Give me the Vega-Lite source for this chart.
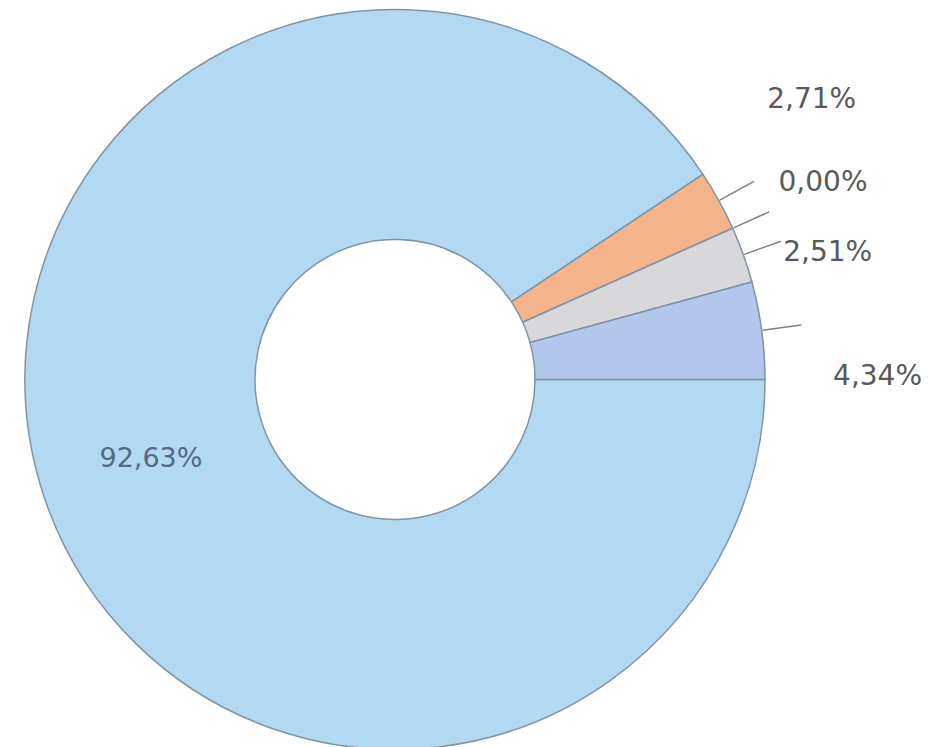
{
  "$schema": "https://vega.github.io/schema/vega-lite/v6.json",
  "width": 790,
  "height": 747,
  "autosize": {"type": "none"},
  "padding": {"left": 0, "top": 6, "right": 149, "bottom": 0},
  "background": "white",
  "config": {"view": {"stroke": null}},
  "data": {
    "values": [
      {"category": "1", "value": 92.63, "label": "92,63%", "order": 1},
      {"category": "2", "value": 2.71, "label": "2,71%", "order": 2},
      {"category": "3", "value": 0.0, "label": "0,00%", "order": 3},
      {"category": "4", "value": 2.51, "label": "2,51%", "order": 4},
      {"category": "5", "value": 4.34, "label": "4,34%", "order": 5}
    ]
  },
  "transform": [
    {"stack": "value", "groupby": [], "sort": [{"field": "order", "order": "ascending"}], "as": ["v0", "v1"]},
    {"calculate": "(datum.v0 + datum.v1) / 2", "as": "mid"}
  ],
  "layer": [
    {
      "mark": {"type": "arc", "innerRadius": 140, "outerRadius": 370, "stroke": "#8194a6", "strokeWidth": 1.5},
      "encoding": {
        "theta": {"field": "value", "type": "quantitative", "stack": true, "scale": {"range": [1.5707963, 7.8539816], "zero": true, "nice": false}},
        "order": {"field": "order", "type": "quantitative", "sort": "ascending"},
        "color": {
          "field": "category",
          "type": "nominal",
          "scale": {"domain": ["1", "2", "3", "4", "5"], "range": ["#b3d8f2", "#f3b48c", "#ffe3a0", "#d8d8da", "#b3c6ec"]},
          "legend": null
        }
      }
    },
    {
      "transform": [{"filter": "datum.order > 1"}],
      "mark": {"type": "arc", "radius": 410, "radius2": 371, "stroke": "#808080", "strokeWidth": 1.5},
      "encoding": {
        "theta": {"field": "mid", "type": "quantitative"},
        "theta2": {"field": "mid"}
      }
    },
    {
      "transform": [{"filter": "datum.order == 1"}],
      "mark": {"type": "text", "radius": 255, "font": "DejaVu Sans", "fontSize": 27, "fill": "#566a82", "align": "center", "baseline": "middle", "dy": 6},
      "encoding": {"theta": {"field": "mid", "type": "quantitative"}, "text": {"field": "label"}}
    },
    {
      "transform": [{"filter": "datum.order == 2"}],
      "mark": {"type": "text", "radius": 440, "font": "DejaVu Sans", "fontSize": 28, "fill": "#595959", "align": "left", "baseline": "middle", "dx": -13, "dy": -67},
      "encoding": {"theta": {"field": "mid", "type": "quantitative"}, "text": {"field": "label"}}
    },
    {
      "transform": [{"filter": "datum.order == 3"}],
      "mark": {"type": "text", "radius": 440, "font": "DejaVu Sans", "fontSize": 28, "fill": "#595959", "align": "left", "baseline": "middle", "dx": -18, "dy": -17},
      "encoding": {"theta": {"field": "mid", "type": "quantitative"}, "text": {"field": "label"}}
    },
    {
      "transform": [{"filter": "datum.order == 4"}],
      "mark": {"type": "text", "radius": 440, "font": "DejaVu Sans", "fontSize": 28, "fill": "#595959", "align": "left", "baseline": "middle", "dx": -26, "dy": 22},
      "encoding": {"theta": {"field": "mid", "type": "quantitative"}, "text": {"field": "label"}}
    },
    {
      "transform": [{"filter": "datum.order == 5"}],
      "mark": {"type": "text", "radius": 440, "font": "DejaVu Sans", "fontSize": 28, "fill": "#595959", "align": "left", "baseline": "middle", "dx": 2, "dy": 56},
      "encoding": {"theta": {"field": "mid", "type": "quantitative"}, "text": {"field": "label"}}
    }
  ]
}
